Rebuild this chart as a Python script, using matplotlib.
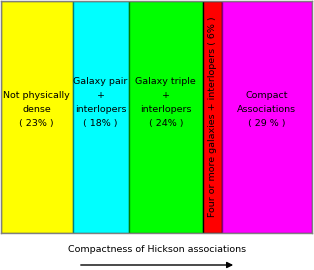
import numpy as np
import matplotlib.pyplot as plt

# categories of Hickson associations, left to right
labels = [
    ["Not physically", "dense", "( 23% )"],
    ["Galaxy pair", "+", "interlopers", "( 18% )"],
    ["Galaxy triple", "+", "interlopers", "( 24% )"],
    ["Four or more galaxies + interlopers ( 6% )"],
    ["Compact", "Associations", "( 29 % )"],
]
percent = [23, 18, 24, 6, 29]
colors = ["#ffff00", "#00ffff", "#00ff00", "#ff0000", "#ff00ff"]
edges = ["#808000", "#008080", "#008000", "#000000", "#800080"]

fig = plt.figure(figsize=(3.14, 2.70), dpi=100)
ax = fig.add_axes([1 / 314, 37 / 270, 311 / 314, 232 / 270])

left = np.concatenate([[0], np.cumsum(percent)[:-1]])
ax.bar(left, [1] * len(percent), width=percent, align="edge",
       color=colors, edgecolor=edges, linewidth=1.0)

fs = 6.8
line = 0.061
for x0, w, lab in zip(left, percent, labels):
    xc = x0 + w / 2
    if len(lab) == 1:
        ax.text(xc, 0.502, lab[0], rotation=90, ha="center", va="center",
                fontsize=fs)
        continue
    # bottom line sits at the same height in every box
    for i, s in enumerate(reversed(lab)):
        ax.text(xc, 0.47 + i * line, s, ha="center", va="center", fontsize=fs)

ax.set_xlim(0, 100)
ax.set_ylim(0, 1)
ax.set_xticks([])
ax.set_yticks([])
for sp in ax.spines.values():
    sp.set_color("#808080")
    sp.set_linewidth(1.0)

fig.text(157 / 314, 1 - 250 / 270, "Compactness of Hickson associations",
         ha="center", va="center", fontsize=fs)
fig.add_artist(plt.matplotlib.patches.FancyArrowPatch(
    (78 / 314, 1 - 265 / 270), (236 / 314, 1 - 265 / 270),
    transform=fig.transFigure, arrowstyle="-|>", mutation_scale=9,
    color="black", linewidth=1.0))

fig.savefig("out.png", dpi=100)
